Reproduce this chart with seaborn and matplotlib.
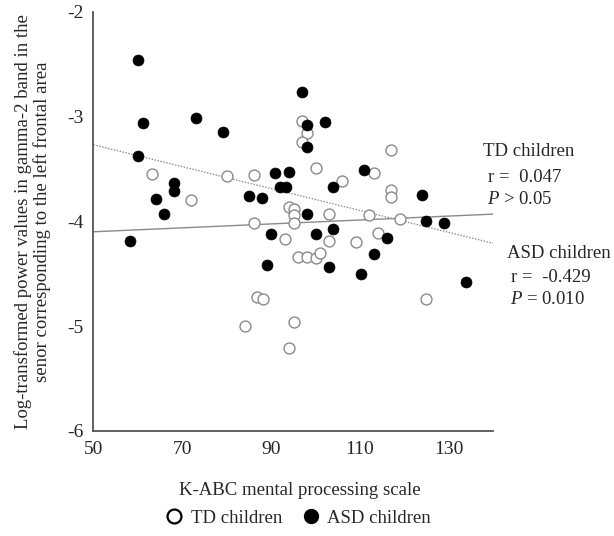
import numpy as np
import pandas as pd
import matplotlib
matplotlib.use("Agg")
import matplotlib.pyplot as plt
import seaborn as sns
from matplotlib.lines import Line2D

# TD children (open circles)
td_x = [63.1, 72.1, 80.0, 86.1, 86.1, 86.9, 88.1, 84.1, 97.0, 98.1, 97.0, 117.1,
        100.2, 106.1, 113.1, 117.1, 117.1, 94.1, 95.1, 95.1, 95.1, 103.1, 112.0,
        119.0, 93.2, 103.1, 109.1, 114.1, 96.1, 98.1, 100.2, 101.0, 95.1, 94.0, 124.9]
td_y = [-3.55, -3.80, -3.57, -3.56, -4.02, -4.72, -4.74, -5.00, -3.04, -3.16, -3.24, -3.32,
        -3.49, -3.61, -3.54, -3.70, -3.77, -3.86, -3.88, -3.94, -4.02, -3.93, -3.94,
        -3.98, -4.17, -4.19, -4.20, -4.11, -4.34, -4.34, -4.35, -4.30, -4.96, -5.21, -4.74]

# ASD children (filled circles)
asd_x = [60.1, 61.2, 73.1, 79.2, 60.1, 68.1, 68.1, 64.1, 65.9, 85.0, 87.9, 58.2,
         97.0, 98.1, 102.1, 98.1, 91.0, 94.0, 92.1, 93.3, 104.0, 110.9, 124.0, 124.9,
         128.9, 98.1, 90.0, 100.2, 104.0, 116.1, 113.1, 89.2, 103.1, 110.2, 134.0]
asd_y = [-2.46, -3.06, -3.01, -3.15, -3.38, -3.63, -3.71, -3.79, -3.93, -3.76, -3.78, -4.19,
         -2.77, -3.08, -3.05, -3.29, -3.54, -3.53, -3.67, -3.67, -3.67, -3.51, -3.75, -4.00,
         -4.02, -3.93, -4.12, -4.12, -4.07, -4.16, -4.31, -4.42, -4.44, -4.50, -4.58]

x_ticks = [50, 70, 90, 110, 130]
y_ticks = [-2, -3, -4, -5, -6]

td = pd.DataFrame({"x": td_x, "y": td_y})
asd = pd.DataFrame({"x": asd_x, "y": asd_y})

sns.set_style("white")
plt.rcParams["font.family"] = ["Liberation Serif", "DejaVu Serif"]
plt.rcParams["axes.unicode_minus"] = False
plt.rcParams["mathtext.fontset"] = "custom"
plt.rcParams["mathtext.it"] = "Liberation Serif:italic"
plt.rcParams["mathtext.rm"] = "Liberation Serif"

fig = plt.figure(figsize=(6.14, 5.36), dpi=100)
ax = fig.add_axes([0.152, 0.196, 0.651, 0.782])
ax.set_xlim(50, 140)
ax.set_ylim(-6, -2)

grey = "#8a8a8a"
sns.regplot(data=td, x="x", y="y", ax=ax, ci=None, truncate=False, scatter=False,
            line_kws=dict(color=grey, lw=1.0, ls="-"))
sns.regplot(data=asd, x="x", y="y", ax=ax, ci=None, truncate=False, scatter=False,
            line_kws=dict(color=grey, lw=0.9, ls=(0, (1.2, 1.2))))
sns.scatterplot(data=td, x="x", y="y", ax=ax, s=62, facecolor="white",
                edgecolor=grey, linewidth=1.0, zorder=3)
sns.scatterplot(data=asd, x="x", y="y", ax=ax, s=62, color="black",
                edgecolor="black", linewidth=0.5, zorder=4)

ax.set_xlim(50, 140)
ax.set_ylim(-6, -2)
ax.set_xticks(x_ticks)
ax.set_yticks(y_ticks)
ax.tick_params(axis="both", labelsize=14, length=5, width=1.0, color="#555555",
               direction="out", pad=2)
for side in ["top", "right"]:
    ax.spines[side].set_visible(False)
for side in ["left", "bottom"]:
    ax.spines[side].set_color("#555555")
    ax.spines[side].set_linewidth(1.3)

ax.set_xlabel("K-ABC mental processing scale", fontsize=13.5, va="center")
ax.xaxis.set_label_coords(0.517, -0.141)
ax.set_ylabel("Log-transformed power values in gamma-2 band in the\n"
              "senor corresponding to the left frontal area", fontsize=13.5,
              linespacing=1.15, va="center")
ax.yaxis.set_label_coords(-0.152, 0.5)

txt = dict(transform=fig.transFigure, fontsize=13.5, ha="left", va="center")
fig.text(483 / 614, 1 - 151 / 536, "TD children", **txt)
fig.text(488 / 614, 1 - 178 / 536, "r =  0.047", **txt)
fig.text(487 / 614, 1 - 200 / 536, r"$P$ > 0.05", **txt)
fig.text(507 / 614, 1 - 253 / 536, "ASD children", **txt)
fig.text(511 / 614, 1 - 278 / 536, "r =  -0.429", **txt)
fig.text(510 / 614, 1 - 300 / 536, r"$P$ = 0.010", **txt)

handles = [Line2D([], [], marker="o", ls="", markersize=10, markerfacecolor="white",
                  markeredgecolor="black", markeredgewidth=1.6),
           Line2D([], [], marker="o", ls="", markersize=10, markerfacecolor="black",
                  markeredgecolor="black")]
fig.legend(handles, ["TD children", "ASD children"], loc="center",
           bbox_to_anchor=(298 / 614, 1 - 518 / 536), ncol=2, frameon=False,
           fontsize=13.5, handletextpad=0.4, columnspacing=1.0, handlelength=1.0)

fig.savefig("out.png", dpi=100)
